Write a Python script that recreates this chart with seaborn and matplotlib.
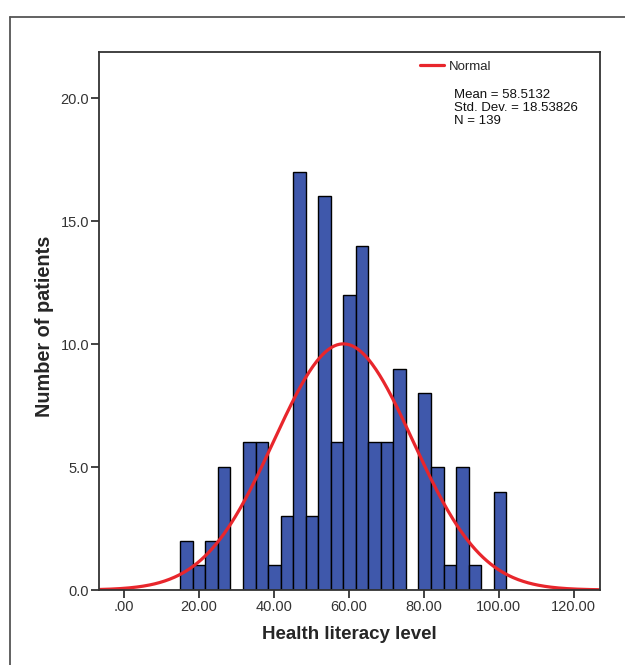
import numpy as np
import pandas as pd
import matplotlib
matplotlib.use("Agg")
import matplotlib.pyplot as plt
import seaborn as sns
from matplotlib.lines import Line2D

# histogram counts (26 bins from 15 to ~102)
counts = [2, 1, 2, 5, 0, 6, 6, 1, 3, 17, 3, 16, 6, 12, 14, 6, 6, 9, 0, 8, 5, 1, 5, 1, 0, 4]
bin_start = 15.0
bin_width = 3.345

mean = 58.5132
sd = 18.53826
n = 139

xticks = [0, 20, 40, 60, 80, 100, 120]
xtick_labels = [".00", "20.00", "40.00", "60.00", "80.00", "100.00", "120.00"]
yticks = [0, 5, 10, 15, 20]
ytick_labels = ["0.0", "5.0", "10.0", "15.0", "20.0"]

sns.set_style("white")
plt.rcParams['font.family'] = ['Liberation Sans', 'DejaVu Sans']

edges = [bin_start + bin_width * i for i in range(len(counts) + 1)]
centers = [(edges[i] + edges[i + 1]) / 2 for i in range(len(counts))]
df = pd.DataFrame({"level": centers, "count": counts})

fig = plt.figure(figsize=(6.25, 6.65), dpi=100)
ax = fig.add_axes([99 / 625, 75 / 665, 501 / 625, 538 / 665])

sns.histplot(data=df, x="level", weights="count", bins=edges, ax=ax,
             color="#3F58AB", edgecolor="black", linewidth=1.0, alpha=1.0)

xs = np.linspace(-7, 127, 400)
ys = n * bin_width * np.exp(-0.5 * ((xs - mean) / sd) ** 2) / (sd * np.sqrt(2 * np.pi))
sns.lineplot(x=xs, y=ys, ax=ax, color="#E8262C", linewidth=2.3, label="Normal")

ax.set_xlim(-6.7, 127)
ax.set_ylim(0, 21.87)
ax.set_xticks(xticks)
ax.set_xticklabels(xtick_labels)
ax.set_yticks(yticks)
ax.set_yticklabels(ytick_labels)
ax.tick_params(axis="both", direction="out", length=6, width=1.2, color="#222222",
               labelsize=10.5, labelcolor="#333333", pad=1,
               bottom=True, left=True)
for s in ax.spines.values():
    s.set_color("#333333")
    s.set_linewidth(1.3)

ax.set_xlabel("Health literacy level", fontsize=13.5, fontweight="bold", labelpad=9)
ax.set_ylabel("Number of patients", fontsize=14.3, fontweight="bold")
ax.yaxis.set_label_coords(-0.089, 0.49)

leg = ax.legend(loc="upper left", bbox_to_anchor=(0.618, 1.006), frameon=False,
                fontsize=9.5, handlelength=1.8, handletextpad=0.35)
ax.text(0.708, 0.932,
        f"Mean = {mean}\nStd. Dev. = {sd}\nN = {n}",
        transform=ax.transAxes, fontsize=9.5, va="top", ha="left",
        linespacing=1.12, color="#111111")

# outer frame of the original screenshot
fig.add_artist(Line2D([10 / 625, 10 / 625], [0, 1 - 17 / 665],
                      transform=fig.transFigure, color="#555555", linewidth=1.3))
fig.add_artist(Line2D([10 / 625, 1], [1 - 17 / 665, 1 - 17 / 665],
                      transform=fig.transFigure, color="#555555", linewidth=1.3))

fig.savefig("out.png", dpi=100)
